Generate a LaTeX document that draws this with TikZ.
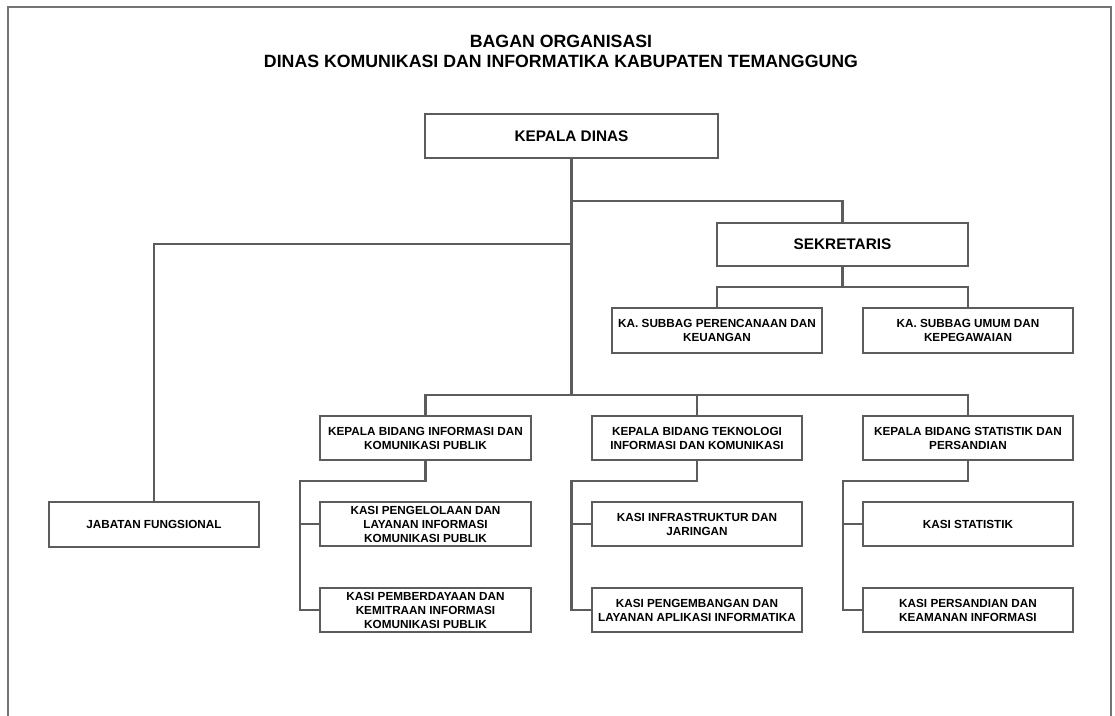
\documentclass[tikz,border=0pt]{standalone}
\usepackage{fontspec}
\setmainfont{Liberation Sans}
\usetikzlibrary{calc}
\definecolor{linegray}{RGB}{92,92,92}
\begin{document}
\begin{tikzpicture}[x=0.75pt,y=-0.75pt,
  orgbox/.style={draw=linegray, line width=2.1pt, fill=white, align=center, inner sep=0pt,
    minimum width={210*0.75pt}, minimum height={44*0.75pt},
    font=\bfseries\fontsize{8.8pt}{10.5pt}\selectfont},
  bigbox/.style={orgbox, font=\bfseries\fontsize{11.5pt}{13pt}\selectfont},
  conn/.style={draw=linegray, line width=2.1pt},
  frame/.style={draw=linegray!85, line width=1.8pt}]
\useasboundingbox (0,0) rectangle (1115,715);
\draw[frame] (8,716) -- (8,7) -- (1111,7) -- (1111,716);

\node[align=center, font=\bfseries\fontsize{13.3pt}{15pt}\selectfont] (title) at (561,51)
  {BAGAN ORGANISASI\\DINAS KOMUNIKASI DAN INFORMATIKA KABUPATEN TEMANGGUNG};

\node[bigbox, minimum width={293*0.75pt}] (kd) at (571.5,136) {KEPALA DINAS};
\node[bigbox, minimum width={251*0.75pt}, minimum height={43*0.75pt}] (sek) at (842.5,244.5) {SEKRETARIS};
\node[orgbox, minimum height={45*0.75pt}] (sub1) at (717,330.5) {KA. SUBBAG PERENCANAAN DAN\\KEUANGAN};
\node[orgbox, minimum height={45*0.75pt}] (sub2) at (968,330.5) {KA. SUBBAG UMUM DAN\\KEPEGAWAIAN};
\node[orgbox, minimum height={45*0.75pt}] (jab) at (154,524.5) {JABATAN FUNGSIONAL};

\node[orgbox, minimum width={211*0.75pt}] (b1) at (425.5,438) {KEPALA BIDANG INFORMASI DAN\\KOMUNIKASI PUBLIK};
\node[orgbox] (b2) at (697,438) {KEPALA BIDANG TEKNOLOGI\\INFORMASI DAN KOMUNIKASI};
\node[orgbox] (b3) at (968,438) {KEPALA BIDANG STATISTIK DAN\\PERSANDIAN};

\node[orgbox, minimum width={211*0.75pt}] (k11) at (425.5,524) {KASI PENGELOLAAN DAN\\LAYANAN INFORMASI\\KOMUNIKASI PUBLIK};
\node[orgbox, minimum width={211*0.75pt}] (k12) at (425.5,610) {KASI PEMBERDAYAAN DAN\\KEMITRAAN INFORMASI\\KOMUNIKASI PUBLIK};
\node[orgbox] (k21) at (697,524) {KASI INFRASTRUKTUR DAN\\JARINGAN};
\node[orgbox] (k22) at (697,610) {KASI PENGEMBANGAN DAN\\LAYANAN APLIKASI INFORMATIKA};
\node[orgbox] (k31) at (968,524) {KASI STATISTIK};
\node[orgbox] (k32) at (968,610) {KASI PERSANDIAN DAN\\KEAMANAN INFORMASI};

\coordinate (sekbus) at (0,201);
\coordinate (jabbus) at (0,244);
\coordinate (subbus) at (0,287);
\coordinate (bus) at (0,395);
\coordinate (s1) at (300,481);
\coordinate (s2) at (571.5,481);
\coordinate (s3) at (843,481);

\draw[conn] (kd.south) -- (kd.south |- bus);
\draw[conn] (kd.south |- sekbus) -| (sek.north);
\draw[conn] (kd.south |- jabbus) -| (jab.north);
\draw[conn] (sek.south) -- (sek.south |- subbus);
\draw[conn] (sub1.north) |- (subbus -| sub2.north) -- (sub2.north);
\draw[conn] (b1.north) |- (bus -| b3.north) -- (b3.north);
\draw[conn] (b2.north) -- (b2.north |- bus);

\draw[conn] (b1.south) |- (s1) |- (k12.west);
\draw[conn] (s1 |- k11.west) -- (k11.west);
\draw[conn] (b2.south) |- (s2) |- (k22.west);
\draw[conn] (s2 |- k21.west) -- (k21.west);
\draw[conn] (b3.south) |- (s3) |- (k32.west);
\draw[conn] (s3 |- k31.west) -- (k31.west);
\end{tikzpicture}
\end{document}
